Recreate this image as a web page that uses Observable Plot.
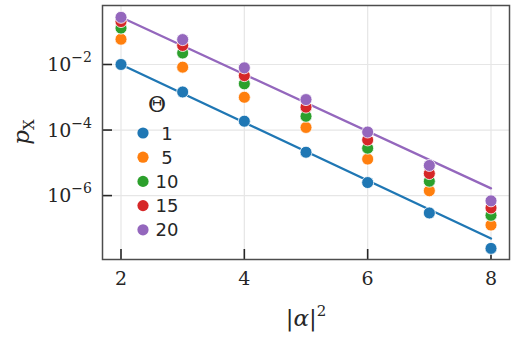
<!DOCTYPE html>
<html><head><meta charset="utf-8">
<script src="https://cdn.jsdelivr.net/npm/d3@7"></script>
<script src="https://cdn.jsdelivr.net/npm/@observablehq/plot@0.6"></script>
<style>body{margin:0;background:#fff}#chart{width:514px;height:337px}</style>
</head><body><div id="chart"></div>
<script>
const alpha2 = [2, 3, 4, 5, 6, 7, 8];
const thetas = [1, 5, 10, 15, 20];
const p1  = [1.0e-2, 1.45e-3, 1.86e-4, 2.1e-5, 2.5e-6, 2.95e-7, 2.45e-8];
const p5  = [5.9e-2, 8.3e-3, 1.0e-3, 1.2e-4, 1.3e-5, 1.4e-6, 1.26e-7];
const p10 = [1.29e-1, 2.24e-2, 2.57e-3, 2.63e-4, 2.8e-5, 2.75e-6, 2.5e-7];
const p15 = [2.04e-1, 3.8e-2, 4.57e-3, 5.0e-4, 5.0e-5, 4.7e-6, 4.2e-7];
const p20 = [2.75e-1, 5.75e-2, 7.9e-3, 8.5e-4, 8.7e-5, 8.3e-6, 6.9e-7];
const fitX = [2, 8];
const fit1 = [1.0e-2, 4.9e-8];
const fit20 = [2.75e-1, 1.66e-6];
const xTicks = [2, 4, 6, 8];
const yTicks = [1e-2, 1e-4, 1e-6];
const yTickExps = ["−2", "−4", "−6"];
const colors = ["#1f77b4", "#ff7f0e", "#2ca02c", "#d62728", "#9467bd"];

const series = [p1, p5, p10, p15, p20];
const points = [];
series.forEach((arr, k) => arr.forEach((v, i) => points.push({x: alpha2[i], p: v, theta: thetas[k]})));
const fits = [];
fitX.forEach((x, i) => { fits.push({x, p: fit1[i], theta: 1}); fits.push({x, p: fit20[i], theta: 20}); });

const serif = "'DejaVu Serif', serif";
const plot = Plot.plot({
  width: 514, height: 337,
  marginLeft: 102, marginRight: 5, marginTop: 5, marginBottom: 78,
  style: {background: "#fff", color: "#262626", fontFamily: serif},
  x: {domain: [1.7, 8.3]},
  y: {type: "log", domain: [Math.pow(10, -7.95), Math.pow(10, -0.2)]},
  color: {domain: thetas, range: colors},
  marks: [
    Plot.gridX(xTicks, {stroke: "#e6e6e6", strokeOpacity: 1, strokeWidth: 1.2}),
    Plot.gridY(yTicks, {stroke: "#e6e6e6", strokeOpacity: 1, strokeWidth: 1.2}),
    Plot.axisX({ticks: xTicks, tickSize: 10, dy: -10, label: null, tickFormat: () => "", stroke: "#262626", strokeWidth: 1.6}),
    Plot.axisX({ticks: xTicks, tickSize: 0, tickPadding: 12, fontSize: 19, label: null, tickFormat: d => String(d)}),
    Plot.axisY({ticks: yTicks, tickSize: 10, dx: 10, label: null, tickFormat: () => "", stroke: "#262626", strokeWidth: 1.6}),
    Plot.line(fits, {x: "x", y: "p", z: "theta", stroke: "theta", strokeWidth: 2.3}),
    Plot.dot(points, {x: "x", y: "p", fill: "theta", r: 6, stroke: "#fff", strokeWidth: 0.8}),
    Plot.frame({stroke: "#4d4d4d", strokeWidth: 1.5})
  ]
});
document.getElementById("chart").appendChild(plot);

const svg = d3.select(plot);
const ys = plot.scale("y");
// y tick labels with superscript exponents
yTicks.forEach((v, i) => {
  const t = svg.append("text").attr("x", 92).attr("y", ys.apply(v) + 7)
    .attr("text-anchor", "end").attr("font-family", serif).attr("font-size", 19).attr("fill", "#262626");
  t.append("tspan").text("10");
  t.append("tspan").attr("font-size", 14).attr("dy", -9).text(yTickExps[i]);
});
// axis labels
const yl = svg.append("text").attr("transform", "translate(29,132) rotate(-90)")
  .attr("text-anchor", "middle").attr("font-family", serif).attr("font-size", 23).attr("fill", "#262626");
yl.append("tspan").attr("font-style", "italic").text("p");
yl.append("tspan").attr("font-size", 15).attr("dy", 5).text("X");
const xl = svg.append("text").attr("x", 306).attr("y", 326)
  .attr("text-anchor", "middle").attr("font-family", serif).attr("font-size", 23).attr("fill", "#262626");
xl.append("tspan").text("|");
xl.append("tspan").attr("font-style", "italic").text("α");
xl.append("tspan").text("|");
xl.append("tspan").attr("font-size", 15).attr("dy", -10).text("2");
// legend
const lg = svg.append("g");
lg.append("text").attr("x", 157).attr("y", 112).attr("text-anchor", "middle")
  .attr("font-family", serif).attr("font-size", 22).attr("fill", "#262626").text("Θ");
thetas.forEach((t, i) => {
  const y = 133 + i * 24.2;
  lg.append("circle").attr("cx", 143).attr("cy", y).attr("r", 5.6).attr("fill", colors[i]);
  lg.append("text").attr("x", 167).attr("y", y + 6.5).attr("font-family", "'DejaVu Sans', sans-serif")
    .attr("font-size", 18).attr("fill", "#262626").text(String(t));
});
</script></body></html>
